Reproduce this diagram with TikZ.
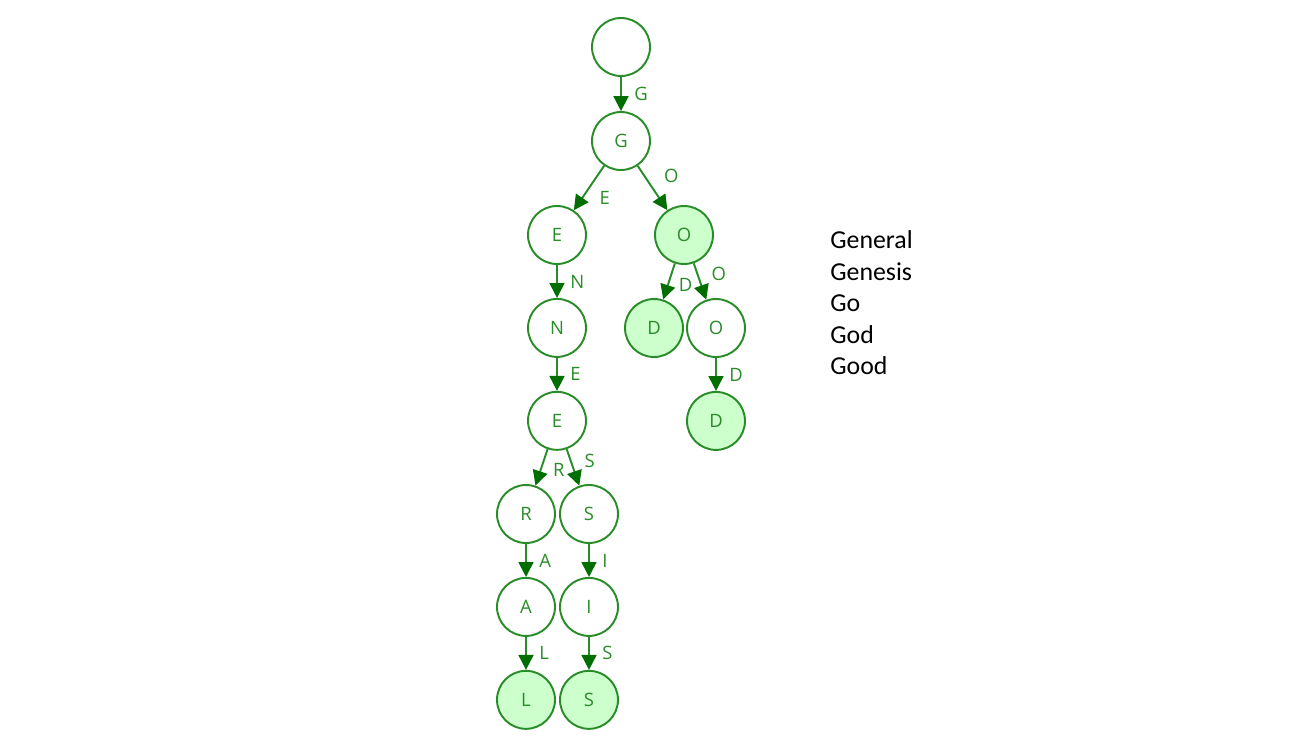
\documentclass[tikz,border=0pt]{standalone}
\usepackage{fontspec}
\setmainfont{Open Sans}
\newfontfamily\listfont{Carlito}
\usetikzlibrary{positioning,arrows.meta}
\definecolor{triegreen}{RGB}{40,140,40}
\definecolor{tipgreen}{RGB}{0,110,0}
\definecolor{wordfill}{RGB}{204,255,204}

\begin{document}
\begin{tikzpicture}[
  x=0.02cm, y=-0.02cm,
  node distance=0.66cm,
  letter/.style={draw=triegreen, circle, line width=1.1pt, minimum size=1.16cm, inner sep=0pt, text=triegreen, font=\fontsize{10.5}{12}\selectfont, fill=white},
  wordend/.style={letter, fill=wordfill},
  link/.style={draw=triegreen, line width=1.1pt, -{Triangle[length=8.5pt, width=8.5pt, color=tipgreen]}},
  lbl/.style={font=\fontsize{10.5}{12}\selectfont, text=triegreen, inner sep=1pt, midway},
]
\useasboundingbox (0,0) rectangle (1289,741);

% root and first letter
\node[letter] (root) at (621,47) {};
\node[letter] (g) at (621,141) {G};
\draw[link] (root) -- node[lbl, right=6pt]{G} (g);

% GENE... branch
\node[letter] (e1) at (557,235) {E};
\node[letter, below=of e1] (n) {N};
\node[letter, below=of n] (e2) {E};
\draw[link] (g) -- node[lbl, right=4.5pt, yshift=-5.5pt]{E} (e1);
\draw[link] (e1) -- node[lbl, right=6pt]{N} (n);
\draw[link] (n) -- node[lbl, right=6pt]{E} (e2);

% General
\node[letter] (r) at (526,514) {R};
\node[letter, below=of r] (a) {A};
\node[wordend, below=of a] (l) {L};
\draw[link] (e2) -- node[lbl, right=5pt, yshift=-1.5pt]{R} (r);
\draw[link] (r) -- node[lbl, right=6pt]{A} (a);
\draw[link] (a) -- node[lbl, right=6pt]{L} (l);

% Genesis
\node[letter] (s1) at (589,514) {S};
\node[letter, below=of s1] (i) {I};
\node[wordend, below=of i] (s2) {S};
\draw[link] (e2) -- node[lbl, right=5pt, yshift=3.5pt]{S} (s1);
\draw[link] (s1) -- node[lbl, right=6pt]{I} (i);
\draw[link] (i) -- node[lbl, right=6pt]{S} (s2);

% Go, God, Good
\node[wordend] (o1) at (684,235) {O};
\node[wordend] (d1) at (654,328) {D};
\node[letter] (o2) at (716,328) {O};
\node[wordend, below=of o2] (d2) {D};
\draw[link] (g) -- node[lbl, right=5pt, yshift=7pt]{O} (o1);
\draw[link] (o1) -- node[lbl, right=4pt, yshift=-2pt]{D} (d1);
\draw[link] (o1) -- node[lbl, right=5pt, yshift=4.5pt]{O} (o2);
\draw[link] (o2) -- node[lbl, right=6pt]{D} (d2);

% word list
\node[font=\listfont\fontsize{14.7}{17.9}\selectfont, align=left, anchor=west, inner sep=0pt] (words) at (830,303) {General\\Genesis\\Go\\God\\Good};
\end{tikzpicture}
\end{document}
